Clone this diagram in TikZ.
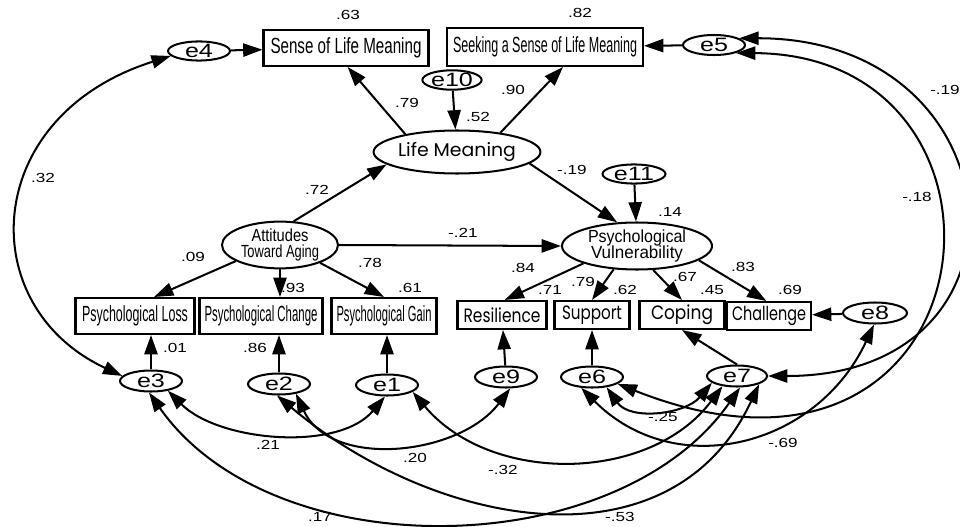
\documentclass[tikz,border=0pt]{standalone}
\usepackage{fontspec}
\setmainfont{Liberation Sans}
\newfontfamily\widesf[FakeStretch=1.3]{Liberation Sans}
\newfontfamily\geosf{Poppins}
\usepackage{graphicx}
\usepackage{tikz}
\usetikzlibrary{arrows.meta, shapes.geometric}
\newlength{\pxl}
\setlength{\pxl}{0.02cm}
\newcommand{\squeeze}[2]{\resizebox{#1\pxl}{\height}{#2}}

\begin{document}
\begin{tikzpicture}[x=0.02cm, y=0.02cm, line width=1.15pt,
    obs/.style={draw, rectangle, inner sep=0pt, minimum height=36\pxl, font=\fontsize{12.5}{14}\selectfont},
    obsgeo/.style={obs, minimum height=28\pxl, font=\geosf\fontsize{11}{12}\selectfont},
    latent/.style={draw, ellipse, inner sep=0pt, align=center},
    errv/.style={draw, ellipse, inner sep=0pt, minimum width=62\pxl, minimum height=21\pxl, font=\widesf\fontsize{11}{12}\selectfont},
    onearrow/.style={-{Triangle[length=11pt,width=7.5pt]}},
    twoarrow/.style={{Triangle[length=11pt,width=7.5pt]}-{Triangle[length=11pt,width=7.5pt]}},
    coef/.style={inner sep=0pt, font=\widesf\fontsize{7.5}{8}\selectfont}]
    \useasboundingbox (0,0) rectangle (960,-527);
    % Observed indicators
    \node[obs, minimum width=165\pxl] (sense) at (346,-48) {\squeeze{151}{Sense of Life Meaning}};
    \node[obs, minimum width=196\pxl, minimum height=38\pxl] (seek) at (545,-47) {\squeeze{184}{Seeking a Sense of Life Meaning}};
    \node[obs, minimum width=119\pxl] (loss) at (135,-316) {\squeeze{106}{Psychological Loss}};
    \node[obs, minimum width=123\pxl] (change) at (261,-316) {\squeeze{113}{Psychological Change}};
    \node[obs, minimum width=105\pxl] (gain) at (384,-316) {\squeeze{95}{Psychological Gain}};
    \node[obsgeo, minimum width=89\pxl] (resil) at (502,-315) {\squeeze{77}{Resilience}};
    \node[obsgeo, minimum width=75\pxl] (support) at (592,-315) {\squeeze{60}{Support}};
    \node[obsgeo, minimum width=85\pxl] (coping) at (682,-315) {\squeeze{62}{Coping}};
    \node[obsgeo, minimum width=84\pxl] (challenge) at (769,-316) {\squeeze{74}{Challenge}};
    % Latent variables
    \node[latent, minimum width=143\pxl, minimum height=43\pxl, font=\geosf\fontsize{10.5}{12}\selectfont] (lm) at (457,-152) {\squeeze{118}{Life Meaning}};
    \node[latent, minimum width=116\pxl, minimum height=46\pxl, font=\fontsize{10}{9.5}\selectfont] (att) at (280,-245) {\squeeze{57}{Attitudes}\\\squeeze{78}{Toward Aging}};
    \node[latent, minimum width=150\pxl, minimum height=47\pxl, font=\fontsize{10}{9.5}\selectfont] (pv) at (637,-246) {\squeeze{98}{Psychological}\\\squeeze{92}{Vulnerability}};
    % Error terms
    \node[errv, minimum height=18\pxl] (e4) at (199,-51) {e4};
    \node[errv, minimum height=20\pxl] (e5) at (714,-45) {e5};
    \node[errv, minimum width=57\pxl, minimum height=18\pxl] (e10) at (452,-80) {e10};
    \node[errv, minimum width=63\pxl, minimum height=19\pxl] (e11) at (634,-174) {e11};
    \node[errv] (e3) at (151,-381) {e3};
    \node[errv] (e2) at (279,-384) {e2};
    \node[errv] (e1) at (387,-385) {e1};
    \node[errv] (e9) at (506,-377) {e9};
    \node[errv] (e6) at (592,-377) {e6};
    \node[errv, minimum width=60\pxl] (e7) at (737,-376) {e7};
    \node[errv, minimum width=64\pxl] (e8) at (875,-313) {e8};
    % Regression paths
    \draw[onearrow] (e4) -- (sense);
    \draw[onearrow] (e5) -- (seek);
    \draw[onearrow] (e10) -- (lm);
    \draw[onearrow] (e11) -- (pv);
    \draw[onearrow] (lm.161) -- (sense.-85);
    \draw[onearrow] (lm.24) -- (seek.-48);
    \draw[onearrow] (att.60) -- (lm.190);
    \draw[onearrow] (lm.-9) -- (pv.130);
    \draw[onearrow] (att.east) -- (pv.west);
    \draw[onearrow] (att.200) -- (loss.45);
    \draw[onearrow] (att.south) -- (att.south |- change.north);
    \draw[onearrow] (att.-24) -- (gain.north);
    \draw[onearrow] (pv.198) -- (resil.80);
    \draw[onearrow] (pv.-135) -- (support.north);
    \draw[onearrow] (pv.-56) -- (coping.north);
    \draw[onearrow] (pv.-13) -- (challenge.100);
    \draw[onearrow] (e3) -- (e3 |- loss.south);
    \draw[onearrow] (e2) -- (e2 |- change.south);
    \draw[onearrow] (e1) -- (e1 |- gain.south);
    \draw[onearrow] (e9) -- (resil);
    \draw[onearrow] (e6) -- (support);
    \draw[onearrow] (e7.north) -- (coping.south);
    \draw[onearrow] (e8) -- (challenge);
    % Error covariances
    \draw[twoarrow] (e4.190) .. controls +(-190,-60) and +(-150,70) .. (e3.170);
    \draw[twoarrow] (e5.15) .. controls +(280,0) and +(280,0) .. (e7.east);
    \draw[twoarrow] (e5.-20) .. controls +(310,-2) and +(380,-150) .. (e6.-15);
    \draw[twoarrow] (e6.-135) to[out=-45, in=-115, looseness=1.15] (e8.-95);
    \draw[twoarrow] (e6.-35) to[out=-55, in=-130] (e7.195);
    \draw[twoarrow] (e1.-15) to[out=-50, in=-127] (e7.-145);
    \draw[twoarrow] (e3.-30) to[out=-45, in=-130, looseness=0.85] (e1.-100);
    \draw[twoarrow] (e2.-30) to[out=-65, in=-127] (e9.-70);
    \draw[twoarrow] (e3.-100) to[out=-55, in=-125, looseness=0.93] (e7.-75);
    \draw[twoarrow] (e2.-100) to[out=-40, in=-115, looseness=1.1] (e7.-20);
    % Coefficients
    \foreach \lx/\ly/\lt [count=\i] in {348/15/.63, 580/13/.82, 407/103/.79, 513/90/.90,
        478/117/.52, 317/190/.72, 572/170/-.19, 670/212/.14, 463/233/-.21, 193/257/.09,
        370/263/.78, 293/288/.93, 410/288/.61, 175/348/.01, 255/348/.86, 523/268/.84,
        550/290/.71, 583/282/.79, 625/290/.62, 685/277/.67, 712/290/.45, 743/267/.83,
        790/290/.69, 43/178/.32, 945/90/-.19, 917/197/-.18, 663/417/-.25, 783/443/-.69,
        268/445/.21, 415/458/.20, 503/470/-.32, 320/517/.17, 620/517/-.53}
        \node[coef] (c\i) at (\lx,-\ly) {\lt};
\end{tikzpicture}
\end{document}
